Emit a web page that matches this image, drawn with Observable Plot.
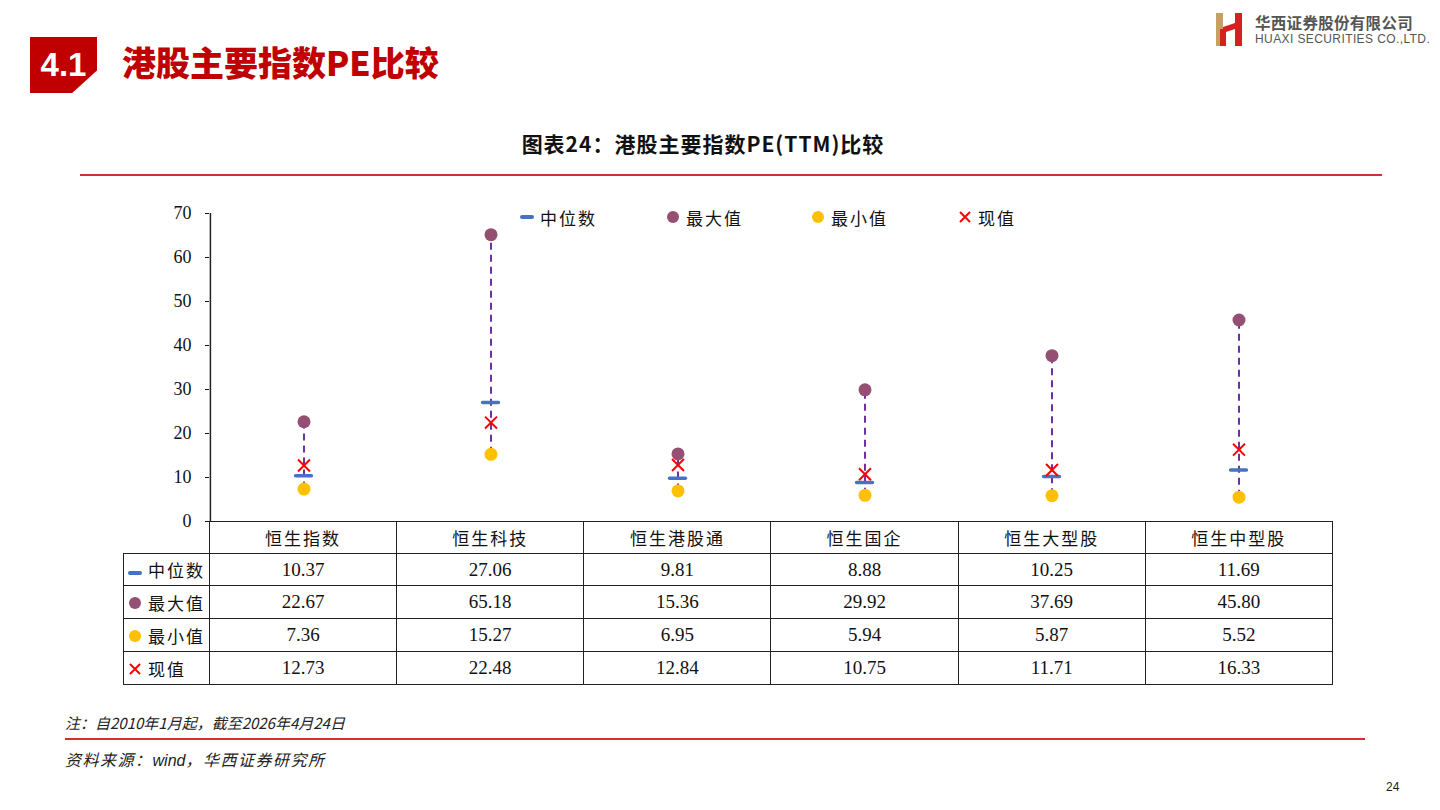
<!DOCTYPE html>
<html><head><meta charset="utf-8">
<script src="https://cdn.jsdelivr.net/npm/d3@7"></script>
<script src="https://cdn.jsdelivr.net/npm/@observablehq/plot@0.6"></script>
<style>
html,body{margin:0;padding:0;background:#fff;}
body{width:1440px;height:810px;position:relative;overflow:hidden;font-family:"Noto Sans CJK SC","Noto Sans",sans-serif;}
.abs{position:absolute;white-space:nowrap;}
#secbox{left:30px;top:37px;width:67px;height:56px;background:#C00000;clip-path:polygon(0 0,100% 0,100% 60%,63% 100%,0 100%);color:#fff;font:bold 33px "Liberation Sans",Arial,sans-serif;display:flex;align-items:center;justify-content:center;}
#sectitle{left:122px;top:40px;font-size:34px;font-weight:900;color:#C00000;line-height:44px;letter-spacing:0px;}
#logo1{left:1255px;top:12px;font-size:15.5px;font-weight:700;color:#555;letter-spacing:0.3px;line-height:20px;}
#logo2{left:1255px;top:31px;font-size:12px;color:#555;font-family:"Liberation Sans",Arial,sans-serif;letter-spacing:0.4px;line-height:16px;}
#ctitle{left:0;width:1406px;top:128px;text-align:center;font-size:21px;font-weight:700;color:#111;line-height:30px;letter-spacing:1px;}
#line1{left:80px;top:174px;width:1302px;height:2px;background:#D03030;}
#line2{left:65px;top:738px;width:1300px;height:2px;background:#D03030;}
#note{left:65px;top:712px;font-size:15px;font-style:italic;color:#222;line-height:22px;}
#src{left:65px;top:748px;font-size:16px;font-style:italic;color:#222;line-height:22px;letter-spacing:1.5px;}
#src .w{font-family:"Liberation Sans",Arial,sans-serif;letter-spacing:0;}
#pg{left:1386px;top:780px;font:12px "Liberation Sans",Arial,sans-serif;color:#222;}
#chart{left:123px;top:200px;}
#legend{top:204px;left:0;width:1440px;height:26px;}
.li{position:absolute;top:0;display:flex;align-items:center;height:26px;font-size:17px;color:#111;letter-spacing:2px;}
.ic{display:inline-block;margin-right:6px;}
table#tbl{position:absolute;left:123px;top:521px;border-collapse:collapse;table-layout:fixed;}
#tbl td{border:1.5px solid #222;text-align:center;padding:0;color:#111;}
#tbl td.num{font-family:"Liberation Serif","Times New Roman",serif;font-size:19px;}
#tbl td.hd{font-size:17px;letter-spacing:2px;}
#tbl td.lab{text-align:left;font-size:17px;letter-spacing:2px;padding-left:4px;white-space:nowrap;}
#tbl td.blank{border:none;border-right:1.5px solid #222;}
</style></head>
<body>
<div id="secbox" class="abs">4.1</div>
<div id="sectitle" class="abs">港股主要指数PE比较</div>
<svg class="abs" style="left:1216px;top:13px" width="26" height="33" viewBox="0 0 26 33">
  <polygon points="0,0 7,0 7,33 0,33" fill="#C9A063"/>
  <polygon points="7,14 19,10 19,16 7,20" fill="#D42020"/>
  <polygon points="19,0 26,0 26,33 19,33" fill="#D42020"/>
  <polygon points="4,16 10,16 10,33 4,33" fill="#D42020"/>
</svg>
<div id="logo1" class="abs">华西证券股份有限公司</div>
<div id="logo2" class="abs">HUAXI SECURITIES CO.,LTD.</div>
<div id="ctitle" class="abs">图表24：港股主要指数PE(TTM)比较</div>
<div id="line1" class="abs"></div>
<div id="chart" class="abs"></div>
<div id="legend" class="abs"></div>
<div id="note" class="abs">注：自2010年1月起，截至2026年4月24日</div>
<div id="line2" class="abs"></div>
<div id="src" class="abs">资料来源：<span class="w">wind</span>，华西证券研究所</div>
<div id="pg" class="abs">24</div>
<script>
const categories = ["恒生指数","恒生科技","恒生港股通","恒生国企","恒生大型股","恒生中型股"];
const medianValues = [10.37, 27.06, 9.81, 8.88, 10.25, 11.69];
const maxValues = [22.67, 65.18, 15.36, 29.92, 37.69, 45.80];
const minValues = [7.36, 15.27, 6.95, 5.94, 5.87, 5.52];
const currentValues = [12.73, 22.48, 12.84, 10.75, 11.71, 16.33];
const yTicks = [0, 10, 20, 30, 40, 50, 60, 70];
const seriesNames = ["中位数", "最大值", "最小值", "现值"];

const COLORS = {med: "#4472C4", max: "#954F72", min: "#FFC000", cur: "#FF0000", rng: "#7030A0"};
const rows = categories.map((c, i) => ({cat: c, med: medianValues[i], max: maxValues[i], min: minValues[i], cur: currentValues[i]}));

const W = 1210, ML = 86, MR = 1, MT = 13, MB = 14, H = 321 + MB;
const bw = (W - ML - MR) / categories.length;

const chart = Plot.plot({
  width: W, height: H,
  marginLeft: ML, marginRight: MR, marginTop: MT, marginBottom: MB,
  style: {fontFamily: "'Liberation Serif','Times New Roman',serif", fontSize: "18px", color: "#111", background: "transparent", overflow: "visible"},
  x: {type: "band", domain: categories, padding: 0, axis: null},
  y: {domain: [0, 70]},
  marks: [
    Plot.axisY({ticks: yTicks, tickSize: 4, tickPadding: 14, tickFormat: d => String(d), label: null, fontSize: 18}),
    Plot.ruleX([categories[0]], {dx: -bw / 2, stroke: "#222", strokeWidth: 1.5}),
    Plot.ruleX(rows, {x: "cat", y1: "min", y2: "max", stroke: COLORS.rng, strokeWidth: 2, strokeDasharray: "7,5"}),
    Plot.dot(rows, {x: "cat", y: "max", r: 6.5, fill: COLORS.max}),
    Plot.dot(rows, {x: "cat", y: "min", r: 6.5, fill: COLORS.min}),
    Plot.tickY(rows, {x: "cat", y: "med", stroke: COLORS.med, strokeWidth: 3.5, strokeLinecap: "round", insetLeft: (bw - 16) / 2, insetRight: (bw - 16) / 2}),
    Plot.dot(rows, {x: "cat", y: "cur", symbol: "times", r: 5.5, stroke: COLORS.cur, strokeWidth: 2})
  ]
});
document.getElementById("chart").appendChild(chart);

function icon(kind) {
  if (kind === 0) return `<svg class="ic" width="14" height="8"><line x1="2" y1="4" x2="12" y2="4" stroke="${COLORS.med}" stroke-width="4" stroke-linecap="round"/></svg>`;
  if (kind === 1) return `<svg class="ic" width="14" height="14"><circle cx="7" cy="7" r="6" fill="${COLORS.max}"/></svg>`;
  if (kind === 2) return `<svg class="ic" width="14" height="14"><circle cx="7" cy="7" r="6" fill="${COLORS.min}"/></svg>`;
  return `<svg class="ic" width="14" height="14"><path d="M2,2L12,12M12,2L2,12" stroke="${COLORS.cur}" stroke-width="2"/></svg>`;
}
const legendX = [520, 666, 811, 958];
document.getElementById("legend").innerHTML = seriesNames.map((n, i) =>
  `<div class="li" style="left:${legendX[i]}px">${icon(i)}${n}</div>`).join("");

const seriesData = [medianValues, maxValues, minValues, currentValues];
let html = `<colgroup><col style="width:86px">${categories.map(() => `<col style="width:${bw}px">`).join("")}</colgroup>`;
html += `<tr style="height:32px"><td class="blank"></td>${categories.map(c => `<td class="hd">${c}</td>`).join("")}</tr>`;
seriesData.forEach((arr, i) => {
  html += `<tr style="height:${i === 0 ? 32 : 33}px"><td class="lab">${icon(i)}${seriesNames[i]}</td>${arr.map(v => `<td class="num">${v.toFixed(2)}</td>`).join("")}</tr>`;
});
const t = document.createElement("table");
t.id = "tbl";
t.innerHTML = html;
document.body.appendChild(t);
</script>
</body></html>
